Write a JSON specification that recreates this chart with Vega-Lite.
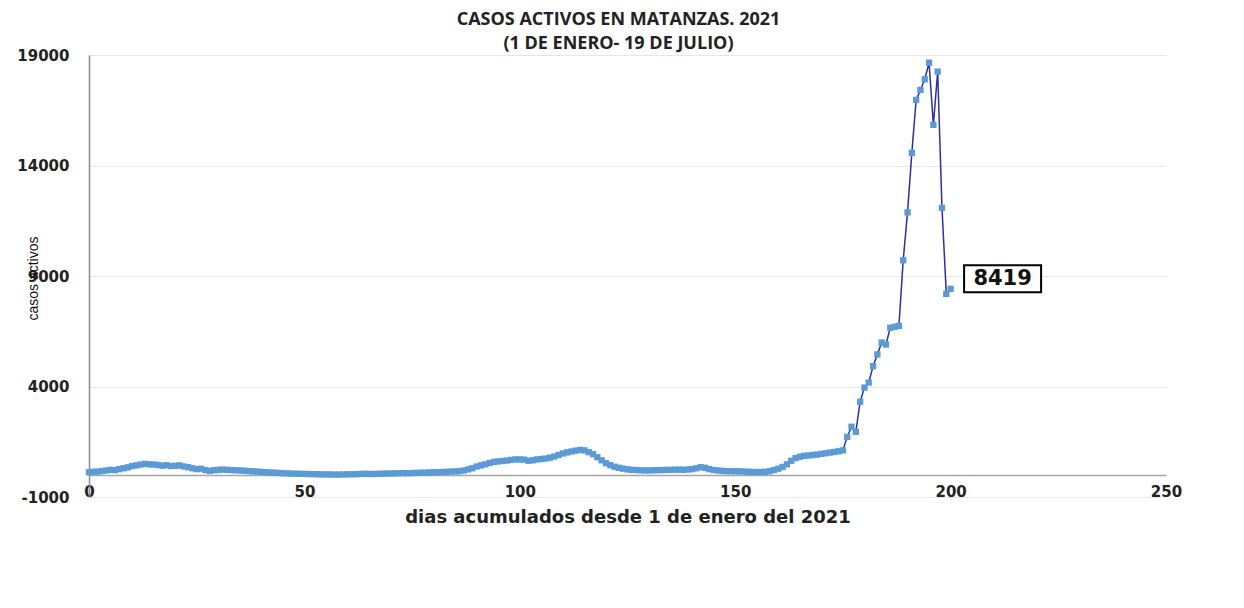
{
  "$schema": "https://vega.github.io/schema/vega-lite/v6.json",
  "width": 1077,
  "height": 442,
  "autosize": {"type": "none"},
  "padding": {"left": 89, "top": 55, "right": 78, "bottom": 111},
  "background": "white",
  "title": {
    "text": ["CASOS ACTIVOS EN MATANZAS. 2021", "(1 DE ENERO- 19 DE JULIO)"],
    "font": "Open Sans",
    "fontSize": 18,
    "fontWeight": "bold",
    "color": "#222222",
    "anchor": "middle",
    "frame": "group",
    "dx": -9,
    "lineHeight": 24,
    "offset": -5
  },
  "config": {"view": {"stroke": null}},
  "data": {
    "values": [
      {"day": 0, "value": 120}, {"day": 1, "value": 140}, {"day": 2, "value": 150}, {"day": 3, "value": 175}, {"day": 4, "value": 200},
      {"day": 5, "value": 230}, {"day": 6, "value": 215}, {"day": 7, "value": 260}, {"day": 8, "value": 300}, {"day": 9, "value": 340},
      {"day": 10, "value": 400}, {"day": 11, "value": 430}, {"day": 12, "value": 470}, {"day": 13, "value": 500}, {"day": 14, "value": 480},
      {"day": 15, "value": 470}, {"day": 16, "value": 450}, {"day": 17, "value": 420}, {"day": 18, "value": 440}, {"day": 19, "value": 400},
      {"day": 20, "value": 410}, {"day": 21, "value": 430}, {"day": 22, "value": 380}, {"day": 23, "value": 350}, {"day": 24, "value": 300},
      {"day": 25, "value": 260}, {"day": 26, "value": 280}, {"day": 27, "value": 220}, {"day": 28, "value": 180}, {"day": 29, "value": 210},
      {"day": 30, "value": 230}, {"day": 31, "value": 240}, {"day": 32, "value": 230}, {"day": 33, "value": 220}, {"day": 34, "value": 210},
      {"day": 35, "value": 200}, {"day": 36, "value": 190}, {"day": 37, "value": 175}, {"day": 38, "value": 160}, {"day": 39, "value": 150},
      {"day": 40, "value": 135}, {"day": 41, "value": 120}, {"day": 42, "value": 110}, {"day": 43, "value": 100}, {"day": 44, "value": 90},
      {"day": 45, "value": 75}, {"day": 46, "value": 70}, {"day": 47, "value": 60}, {"day": 48, "value": 55}, {"day": 49, "value": 50},
      {"day": 50, "value": 45}, {"day": 51, "value": 40}, {"day": 52, "value": 35}, {"day": 53, "value": 30}, {"day": 54, "value": 25},
      {"day": 55, "value": 20}, {"day": 56, "value": 20}, {"day": 57, "value": 15}, {"day": 58, "value": 15}, {"day": 59, "value": 20},
      {"day": 60, "value": 25}, {"day": 61, "value": 30}, {"day": 62, "value": 35}, {"day": 63, "value": 40}, {"day": 64, "value": 50},
      {"day": 65, "value": 45}, {"day": 66, "value": 40}, {"day": 67, "value": 50}, {"day": 68, "value": 55}, {"day": 69, "value": 60},
      {"day": 70, "value": 65}, {"day": 71, "value": 70}, {"day": 72, "value": 75}, {"day": 73, "value": 80}, {"day": 74, "value": 80},
      {"day": 75, "value": 85}, {"day": 76, "value": 90}, {"day": 77, "value": 95}, {"day": 78, "value": 100}, {"day": 79, "value": 110},
      {"day": 80, "value": 120}, {"day": 81, "value": 125}, {"day": 82, "value": 130}, {"day": 83, "value": 140}, {"day": 84, "value": 150},
      {"day": 85, "value": 160}, {"day": 86, "value": 170}, {"day": 87, "value": 200}, {"day": 88, "value": 250}, {"day": 89, "value": 300},
      {"day": 90, "value": 380}, {"day": 91, "value": 430}, {"day": 92, "value": 480}, {"day": 93, "value": 540}, {"day": 94, "value": 590},
      {"day": 95, "value": 610}, {"day": 96, "value": 630}, {"day": 97, "value": 650}, {"day": 98, "value": 680}, {"day": 99, "value": 700},
      {"day": 100, "value": 700}, {"day": 101, "value": 690}, {"day": 102, "value": 640}, {"day": 103, "value": 660}, {"day": 104, "value": 700},
      {"day": 105, "value": 720}, {"day": 106, "value": 740}, {"day": 107, "value": 780}, {"day": 108, "value": 830}, {"day": 109, "value": 900},
      {"day": 110, "value": 970}, {"day": 111, "value": 1020}, {"day": 112, "value": 1060}, {"day": 113, "value": 1100}, {"day": 114, "value": 1130},
      {"day": 115, "value": 1110}, {"day": 116, "value": 1030}, {"day": 117, "value": 940}, {"day": 118, "value": 800}, {"day": 119, "value": 660},
      {"day": 120, "value": 530}, {"day": 121, "value": 440}, {"day": 122, "value": 370}, {"day": 123, "value": 320}, {"day": 124, "value": 280},
      {"day": 125, "value": 250}, {"day": 126, "value": 230}, {"day": 127, "value": 220}, {"day": 128, "value": 210}, {"day": 129, "value": 200},
      {"day": 130, "value": 200}, {"day": 131, "value": 210}, {"day": 132, "value": 215}, {"day": 133, "value": 220}, {"day": 134, "value": 225},
      {"day": 135, "value": 230}, {"day": 136, "value": 235}, {"day": 137, "value": 240}, {"day": 138, "value": 230}, {"day": 139, "value": 245},
      {"day": 140, "value": 260}, {"day": 141, "value": 300}, {"day": 142, "value": 350}, {"day": 143, "value": 320}, {"day": 144, "value": 260},
      {"day": 145, "value": 220}, {"day": 146, "value": 200}, {"day": 147, "value": 180}, {"day": 148, "value": 170}, {"day": 149, "value": 170},
      {"day": 150, "value": 165}, {"day": 151, "value": 160}, {"day": 152, "value": 150}, {"day": 153, "value": 140}, {"day": 154, "value": 135},
      {"day": 155, "value": 130}, {"day": 156, "value": 130}, {"day": 157, "value": 140}, {"day": 158, "value": 170}, {"day": 159, "value": 220},
      {"day": 160, "value": 280}, {"day": 161, "value": 360}, {"day": 162, "value": 480}, {"day": 163, "value": 640}, {"day": 164, "value": 760},
      {"day": 165, "value": 820}, {"day": 166, "value": 860}, {"day": 167, "value": 880}, {"day": 168, "value": 900}, {"day": 169, "value": 920},
      {"day": 170, "value": 950}, {"day": 171, "value": 980}, {"day": 172, "value": 1010}, {"day": 173, "value": 1040}, {"day": 174, "value": 1070},
      {"day": 175, "value": 1110}, {"day": 176, "value": 1720}, {"day": 177, "value": 2180}, {"day": 178, "value": 1950}, {"day": 179, "value": 3310},
      {"day": 180, "value": 3950}, {"day": 181, "value": 4180}, {"day": 182, "value": 4920}, {"day": 183, "value": 5450}, {"day": 184, "value": 5990},
      {"day": 185, "value": 5900}, {"day": 186, "value": 6660}, {"day": 187, "value": 6700}, {"day": 188, "value": 6740}, {"day": 189, "value": 9710},
      {"day": 190, "value": 11880}, {"day": 191, "value": 14570}, {"day": 192, "value": 16970}, {"day": 193, "value": 17420}, {"day": 194, "value": 17900},
      {"day": 195, "value": 18650}, {"day": 196, "value": 15840}, {"day": 197, "value": 18250}, {"day": 198, "value": 12080}, {"day": 199, "value": 8190},
      {"day": 200, "value": 8419}
    ]
  },
  "encoding": {
    "x": {
      "field": "day",
      "type": "quantitative",
      "scale": {"domain": [0, 250], "nice": false},
      "axis": {
        "values": [0, 50, 100, 150, 200, 250],
        "offset": -22,
        "grid": false,
        "domain": true,
        "domainColor": "#A6A6A6",
        "domainWidth": 1.5,
        "ticks": false,
        "labelPadding": 9,
        "labelFont": "DejaVu Sans",
        "labelFontWeight": "bold",
        "labelFontSize": 15,
        "labelColor": "#222222",
        "labelOverlap": false,
        "labelFlush": false,
        "title": "dias acumulados desde 1  de enero del 2021",
        "titleFont": "DejaVu Sans",
        "titleFontSize": 18,
        "titleFontWeight": "bold",
        "titleColor": "#222222",
        "titleY": 42,
        "titleBaseline": "middle"
      }
    },
    "y": {
      "field": "value",
      "type": "quantitative",
      "scale": {"domain": [-1000, 19000], "nice": false, "zero": false},
      "axis": {
        "values": [-1000, 4000, 9000, 14000, 19000],
        "labelExpr": "'' + datum.value",
        "grid": true,
        "gridColor": "#E6E6E6",
        "gridWidth": 1,
        "domain": true,
        "domainColor": "#8C8C8C",
        "domainWidth": 1.5,
        "ticks": false,
        "labelPadding": 20,
        "labelFont": "DejaVu Sans",
        "labelFontWeight": "bold",
        "labelFontSize": 15,
        "labelColor": "#222222",
        "labelOverlap": false,
        "labelFlush": false,
        "title": "casos activos",
        "titleFont": "Liberation Sans Narrow, Liberation Sans",
        "titleFontSize": 14,
        "titleFontWeight": "normal",
        "titleColor": "#111111",
        "titleX": -56,
        "titleY": 223,
        "titleAngle": 270,
        "titleAlign": "center",
        "titleBaseline": "middle"
      }
    }
  },
  "layer": [
    {"mark": {"type": "line", "color": "#2F2FA5", "strokeWidth": 1.5}},
    {"mark": {"type": "point", "shape": "square", "filled": true, "size": 40, "color": "#5B9BD5", "opacity": 1}},
    {
      "transform": [{"filter": "datum.day == 200"}],
      "mark": {"type": "point", "shape": "M-1,-0.35H1V0.35H-1Z", "size": 5929, "filled": true, "fill": "white", "stroke": "black", "strokeWidth": 2, "opacity": 1, "xOffset": 52, "yOffset": -10}
    },
    {
      "transform": [{"filter": "datum.day == 200"}],
      "mark": {"type": "text", "dx": 52, "dy": -10, "font": "DejaVu Sans", "fontWeight": "bold", "fontSize": 21, "color": "#111111", "align": "center", "baseline": "middle"},
      "encoding": {"text": {"field": "value", "type": "quantitative", "format": "d"}}
    }
  ]
}
